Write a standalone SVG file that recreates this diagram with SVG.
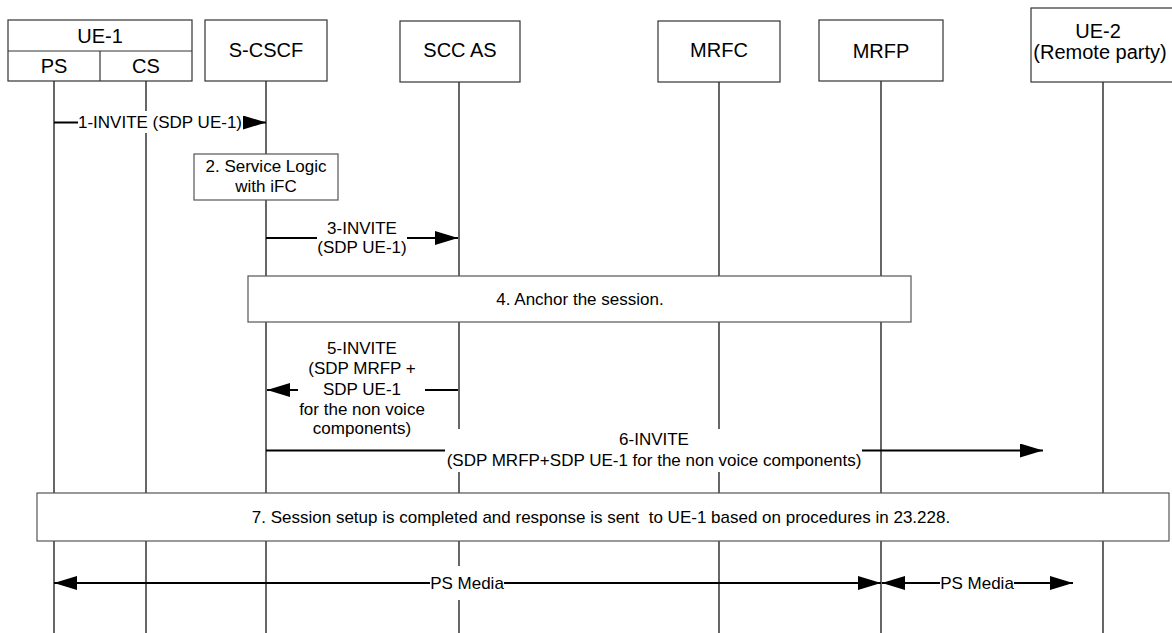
<svg xmlns="http://www.w3.org/2000/svg" width="1172" height="633" viewBox="0 0 1172 633">
<style>
.hdr{fill:#fff;stroke:#333;stroke-width:1.2}
.ht{font-family:"Liberation Sans",Arial,sans-serif;font-size:20px;fill:#000;text-anchor:middle}
.life{stroke:#000;stroke-width:1.2;fill:none}
.note{fill:#fff;stroke:#555;stroke-width:1.2}
.t{font-family:"Liberation Sans",Arial,sans-serif;font-size:17px;fill:#000;text-anchor:middle}
.msg{stroke:#000;stroke-width:2;fill:none}
.bg{fill:#fff;stroke:none}
</style>
<defs>
<marker id="arr" viewBox="0 0 23 14" refX="23" refY="7" markerWidth="23" markerHeight="14" markerUnits="userSpaceOnUse" orient="auto-start-reverse">
<path d="M0,0 L23,7 L0,14 z" fill="#000"/>
</marker>
</defs>
<rect width="1172" height="633" fill="#fff"/>

<g id="ue1">
<line class="life" x1="54" y1="81" x2="54" y2="633"/>
<line class="life" x1="146" y1="81" x2="146" y2="633"/>
<rect class="hdr" x="8" y="20" width="184" height="61"/>
<line class="hdr" x1="8" y1="51" x2="192" y2="51"/>
<line class="hdr" x1="100" y1="51" x2="100" y2="81"/>
<text class="ht" x="100" y="43">UE-1</text>
<text class="ht" x="54" y="73">PS</text>
<text class="ht" x="146" y="73">CS</text>
</g>
<g id="scscf">
<line class="life" x1="266" y1="81" x2="266" y2="633"/>
<rect class="hdr" x="205" y="20" width="122" height="61"/>
<text class="ht" x="266" y="57">S-CSCF</text>
</g>
<g id="sccas">
<line class="life" x1="459" y1="82" x2="459" y2="633"/>
<rect class="hdr" x="400" y="21" width="120" height="61"/>
<text class="ht" x="460" y="57">SCC AS</text>
</g>
<g id="mrfc">
<line class="life" x1="719" y1="82" x2="719" y2="633"/>
<rect class="hdr" x="658" y="21" width="122" height="61"/>
<text class="ht" x="719" y="57">MRFC</text>
</g>
<g id="mrfp">
<line class="life" x1="881" y1="81" x2="881" y2="633"/>
<rect class="hdr" x="819" y="20" width="124" height="61"/>
<text class="ht" x="881" y="58">MRFP</text>
</g>
<g id="ue2">
<line class="life" x1="1103" y1="82" x2="1103" y2="633"/>
<rect class="hdr" x="1031" y="8" width="145" height="74"/>
<text class="ht" x="1098" y="38">UE-2</text>
<text class="ht" x="1100" y="59">(Remote party)</text>
</g>

<g id="step2">
<rect class="note" x="194" y="154" width="144" height="46"/>
<text class="t" x="266" y="172">2. Service Logic</text>
<text class="t" x="266" y="192">with iFC</text>
</g>
<g id="step4">
<rect class="note" x="248" y="276" width="663" height="46"/>
<text class="t" x="580" y="305">4. Anchor the session.</text>
</g>
<g id="step7">
<rect class="note" x="37" y="493" width="1132" height="48"/>
<text class="t" x="601" y="523" xml:space="preserve">7. Session setup is completed and response is sent  to UE-1 based on procedures in 23.228.</text>
</g>

<g id="connectors">
<line class="msg" x1="54" y1="122.5" x2="266" y2="122.5" marker-end="url(#arr)"/>
<rect class="bg" x="78" y="111" width="165" height="22"/>
<text class="t" x="160" y="128">1-INVITE (SDP UE-1)</text>

<line class="msg" x1="266" y1="238" x2="458" y2="238" marker-end="url(#arr)"/>
<rect class="bg" x="317" y="220" width="90" height="38"/>
<text class="t" x="362" y="234">3-INVITE</text>
<text class="t" x="362" y="253">(SDP UE-1)</text>

<line class="msg" x1="458" y1="390" x2="267" y2="390" marker-end="url(#arr)"/>
<rect class="bg" x="298" y="338" width="127" height="102"/>
<text class="t" x="362" y="353.5">5-INVITE</text>
<text class="t" x="362" y="374">(SDP MRFP +</text>
<text class="t" x="362" y="394.5">SDP UE-1</text>
<text class="t" x="362" y="415">for the non voice</text>
<text class="t" x="362" y="434">components)</text>

<line class="msg" x1="266" y1="450.5" x2="1043" y2="450.5" marker-end="url(#arr)"/>
<rect class="bg" x="445" y="429" width="417" height="43"/>
<text class="t" x="654" y="445">6-INVITE</text>
<text class="t" x="654" y="466">(SDP MRFP+SDP UE-1 for the non voice components)</text>

<line class="msg" x1="54" y1="583" x2="881" y2="583" marker-start="url(#arr)" marker-end="url(#arr)"/>
<rect class="bg" x="430" y="566" width="74" height="34"/>
<text class="t" x="467" y="589">PS Media</text>

<line class="msg" x1="882" y1="583" x2="1073" y2="583" marker-start="url(#arr)" marker-end="url(#arr)"/>
<rect class="bg" x="940" y="572" width="74" height="22"/>
<text class="t" x="977" y="589">PS Media</text>
</g>
</svg>
